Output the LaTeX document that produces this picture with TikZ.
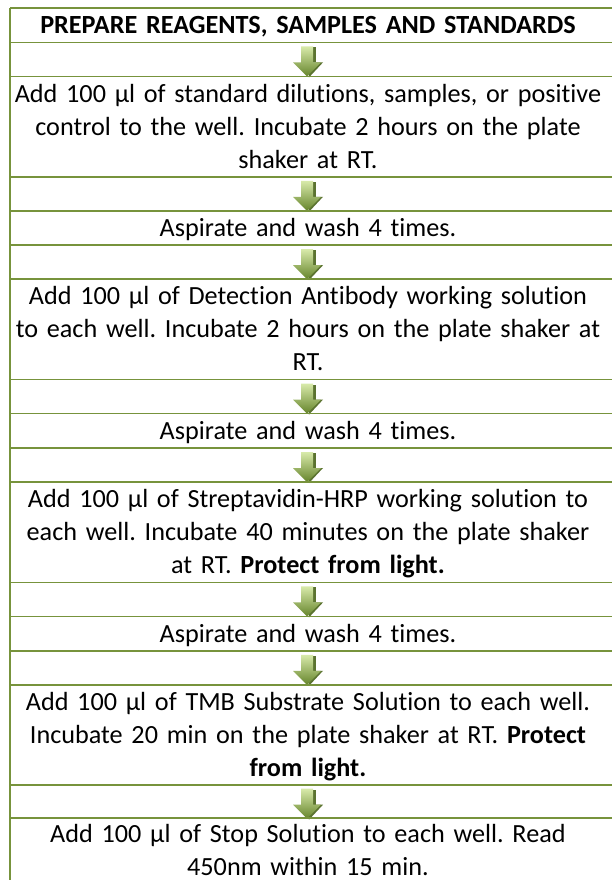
\documentclass[tikz,border=0pt]{standalone}
\usepackage{fontspec}
\setmainfont{Carlito}[Ligatures=NoCommon]
\usepackage{tikz}
\usetikzlibrary{positioning,calc}
\definecolor{rulegreen}{HTML}{77933C}
\definecolor{arrowlight}{HTML}{D8EAAA}
\definecolor{arrowmid}{HTML}{A2C35F}
\definecolor{arrowdeep}{HTML}{65842B}
\definecolor{arrowshadow}{HTML}{5B7330}

\begin{document}
\begin{tikzpicture}[
  x=1pt, y=-1pt,
  node distance=34pt,
  cellbase/.style={align=center, text width=600pt, inner xsep=0pt, inner ysep=0.5pt,
    font=\fontsize{26.2}{33}\selectfont\frenchspacing},
  stepcell/.style={cellbase,
    execute at begin node=\rule{0pt}{25pt},
    execute at end node=\rule[-8pt]{0pt}{8pt}},
  lastcell/.style={cellbase,
    execute at begin node=\strut, execute at end node=\strut},
  rule/.style={draw=rulegreen, line width=1.5pt},
  downarrow/.pic={
    \fill[arrowshadow] (6,-12) -- (9,-12) -- (9,3) -- (6,3) -- cycle;
    \fill[arrowshadow] (0,3) -- (16,3) -- (2,18) -- cycle;
    \shade[top color=arrowlight, middle color=arrowmid, bottom color=arrowdeep]
      (-6,-13) -- (6,-13) -- (6,3) -- (14,3) -- (0,17) -- (-14,3) -- (-6,3) -- cycle;
  }
]
\useasboundingbox (0,0) rectangle (612,880);
\fill[white] (0,0) rectangle (612,880);

\node (s1) [stepcell, anchor=north] at (308,8) {\textbf{PREPARE REAGENTS, SAMPLES AND STANDARDS}};
\node (s2) [stepcell, below=of s1] {Add 100 µl of standard dilutions, samples, or positive\\control to the well. Incubate 2 hours on the plate\\shaker at RT.};
\node (s3) [stepcell, below=of s2] {Aspirate and wash 4 times.};
\node (s4) [stepcell, below=of s3] {Add 100 µl of Detection Antibody working solution\\to each well. Incubate 2 hours on the plate shaker at\\RT.};
\node (s5) [stepcell, below=of s4] {Aspirate and wash 4 times.};
\node (s6) [stepcell, below=of s5] {Add 100 µl of Streptavidin-HRP working solution to\\each well. Incubate 40 minutes on the plate shaker\\at RT. \textbf{Protect from light.}};
\node (s7) [stepcell, below=of s6] {Aspirate and wash 4 times.};
\node (s8) [stepcell, below=of s7] {Add 100 µl of TMB Substrate Solution to each well.\\Incubate 20 min on the plate shaker at RT. \textbf{Protect}\\\textbf{from light.}};
\node (s9) [lastcell, below=33pt of s8] {Add 100 µl of Stop Solution to each well. Read\\450nm within 15 min.};

\coordinate (left) at (10,0);
\coordinate (right) at (612,0);

% arrows between the steps
\foreach \a/\b in {s1/s2, s2/s3, s3/s4, s4/s5, s5/s6, s6/s7, s7/s8, s8/s9}
  \pic at ($(\a.south)!0.5!(\b.north) + (-1pt,0)$) {downarrow};

% table rules
\foreach \n in {s1, s2, s3, s4, s5, s6, s7, s8}
  \draw[rule] (\n.north -| left) -- (\n.north -| right)
              (\n.south -| left) -- (\n.south -| right);
\draw[rule] (s9.north -| left) -- (s9.north -| right);
\draw[rule] (s1.north -| left) -- (10,880);
\end{tikzpicture}
\end{document}
